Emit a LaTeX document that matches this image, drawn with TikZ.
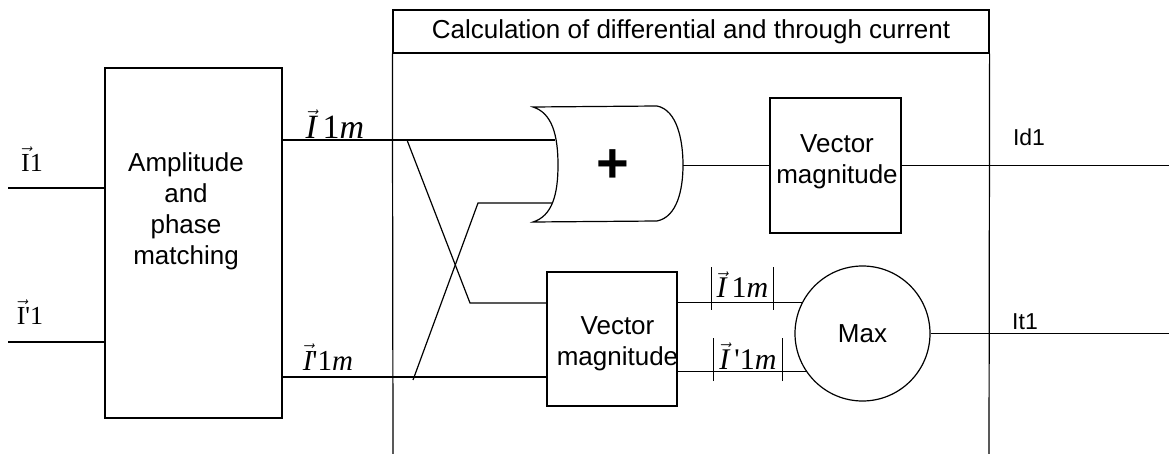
\documentclass[tikz,border=0pt]{standalone}
\usepackage{fontspec}
\setmainfont{Liberation Sans}
\newfontfamily\tms{Liberation Serif}
\newcommand\vI{\ensuremath{\vec{\mbox{I}}}}
\newcommand\vIit{\ensuremath{\vec{\mbox{\itshape I}}}}
\newcommand\absbar{\rule[-12pt]{1.1pt}{43pt}}
\begin{document}
\begin{tikzpicture}[x=1pt,y=-1pt,line width=1.2pt,
  blk/.style={draw,inner sep=0pt,align=center},
  txt/.style={font=\fontsize{26}{31}\selectfont}]
  \useasboundingbox (0,0) rectangle (1169,454);

  % Matching block and its inputs
  \node[blk,minimum width=177pt,minimum height=350pt] (amp) at (193.5,243) {};
  \node[txt,align=center] (amptxt) at (186,211) {Amplitude\\and\\phase\\matching};
  \coordinate (in1) at (8,188);
  \coordinate (in2) at (8,342);
  \draw (in1) -- (in1 -| amp.west);
  \draw (in2) -- (in2 -| amp.west);
  \node[font=\tms\fontsize{26}{28}\selectfont] (lin1) at (32,159) {\vI1};
  \node[font=\tms\fontsize{26}{28}\selectfont] (lin2) at (30,312) {\vI'1};

  % Calculation frame
  \node[blk,txt,minimum width=596pt,minimum height=43pt] (hdr) at (691,31.5)
  {Calculation of differential and through current};
  \coordinate (bl) at (393,454);
  \coordinate (br) at (989,454);
  \draw (hdr.south west) -- (bl);
  \draw (hdr.south east) -- (br);

  % Summing gate
  \draw (533,107) .. controls (552,113) and (558,135) .. (558,165)
    .. controls (558,195) and (552,216) .. (533,222) -- (657,221)
    .. controls (677,217) and (683,190) .. (683,165)
    .. controls (683,140) and (677,110) .. (657,106) -- cycle;
  \node[font=\fontsize{56}{60}\selectfont\bfseries] (plus) at (613,166) {+};
  \coordinate (or1) at (555,140);
  \coordinate (or2) at (552,203);
  \coordinate (orout) at (683,165.5);

  % Magnitude blocks and max
  \node[blk,minimum width=131pt,minimum height=135pt] (vm1) at (835.5,165.5) {};
  \node[txt,align=center] (vm1txt) at (837,162) {Vector\\magnitude};
  \node[blk,minimum width=130pt,minimum height=134pt] (vm2) at (612,339) {};
  \node[txt,align=center] (vm2txt) at (617.5,344) {Vector\\magnitude};
  \node[draw,circle,txt,minimum size=135pt,inner sep=0pt] (max) at (862.5,333.5) {Max};

  % Cross wiring
  \coordinate (x1) at (407,140);
  \coordinate (x2) at (470,303);
  \coordinate (x3) at (478,203);
  \coordinate (x4) at (413,380);
  \draw (amp.east |- or1) -- (or1);
  \draw (x1) -- (x2) -- (vm2.west |- x2);
  \draw (amp.east |- 0,377) -- (vm2.west |- 0,377);
  \draw (x4) -- (x3) -- (or2);
  \draw (orout) -- (vm1.west);
  \draw (max.153 -| vm2.east) -- (max.153);
  \draw (max.214 -| vm2.east) -- (max.214);

  % Outputs
  \coordinate (outd) at (1169,165.5);
  \coordinate (outt) at (1169,333.5);
  \draw (vm1.east) -- (outd);
  \draw (max.east) -- (outt);
  \node[font=\fontsize{23}{26}\selectfont] (lid) at (1029,137) {Id1};
  \node[font=\fontsize{23}{26}\selectfont] (lit) at (1025,322) {It1};

  % Signal labels
  \node[font=\tms\fontsize{34}{36}\selectfont] (lm1) at (335,124) {\vIit\,1\itshape m};
  \node[font=\tms\fontsize{29}{31}\selectfont] (lm2) at (328,357) {\vIit'1\itshape m};
  \node[font=\tms\fontsize{30}{32}\selectfont,anchor=base,inner sep=0pt] (la1) at (742.5,298)
  {\absbar\,\vIit\,1\itshape m\,\absbar};
  \node[font=\tms\fontsize{30}{32}\selectfont,anchor=base,inner sep=0pt] (la2) at (748,369)
  {\absbar\,\vIit\,'1\itshape m\,\absbar};
\end{tikzpicture}
\end{document}
